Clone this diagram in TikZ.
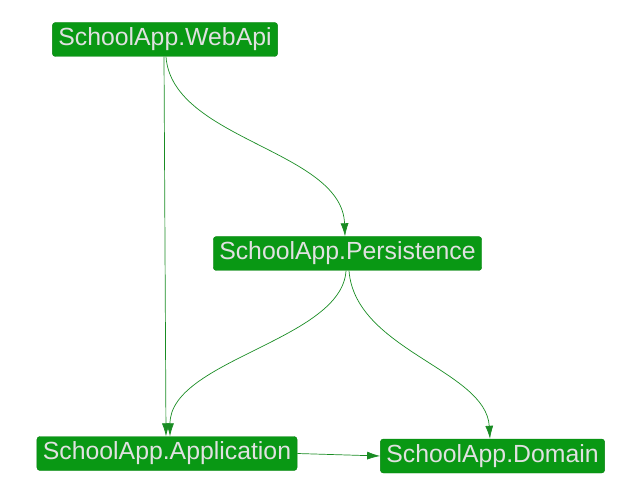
\documentclass[tikz,border=0pt]{standalone}
\usepackage{fontspec}
\setmainfont{Liberation Sans}
\usetikzlibrary{arrows.meta}
\definecolor{nodegreen}{RGB}{9,152,20}
\definecolor{edgegreen}{RGB}{25,140,35}
\definecolor{txtgrey}{RGB}{225,225,225}
\begin{document}
\begin{tikzpicture}[x=1pt,y=-1pt,
  pkg/.style={draw=nodegreen!85!black, fill=nodegreen, rounded corners=3pt, text=txtgrey,
    font=\fontsize{24.8}{28}\selectfont, inner xsep=6pt, inner ysep=0pt,
    minimum height=34pt, anchor=center},
  dep/.style={draw=edgegreen, line width=0.7pt, -{Latex[length=13pt,width=8pt]}}]
\useasboundingbox (0,0) rectangle (632,494);
\node[pkg] (web) at (165,39.5) {\raisebox{-1pt}{SchoolApp.WebApi}};
\node[pkg] (per) at (347.5,253.5) {\raisebox{-1pt}{SchoolApp.Persistence}};
\node[pkg] (app) at (167,453.5) {\raisebox{-1pt}{SchoolApp.Application}};
\node[pkg] (dom) at (492.5,456) {\raisebox{-1pt}{SchoolApp.Domain}};
\draw[dep] (web.south -| 164,0) -- (app.north -| 166,0);
\draw[dep] (web.south -| 166,0) .. controls (172,140) and (342,150) .. (per.north -| 345,0);
\draw[dep] (per.south -| 346,0) .. controls (342,340) and (170,360) .. (app.north -| 170,0);
\draw[dep] (per.south -| 349,0) .. controls (355,350) and (486,370) .. (dom.north -| 490,0);
\draw[dep] (app.east) -- (dom.west);
\end{tikzpicture}
\end{document}
